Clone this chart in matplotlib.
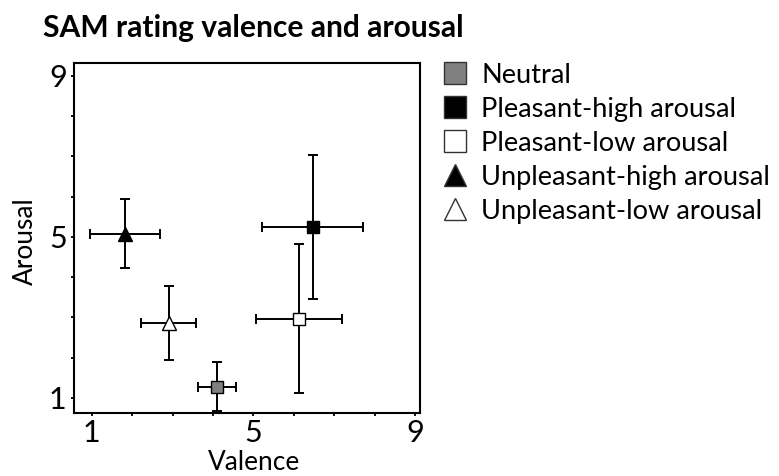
import matplotlib
matplotlib.use("Agg")
import matplotlib.pyplot as plt
from matplotlib.lines import Line2D

plt.rcParams['font.family'] = ['Lato', 'DejaVu Sans']

categories = ["Neutral", "Pleasant-high arousal", "Pleasant-low arousal",
              "Unpleasant-high arousal", "Unpleasant-low arousal"]
valence = [4.11, 6.47, 6.13, 1.82, 2.90]
valence_err = [0.47, 1.25, 1.07, 0.86, 0.67]
arousal = [1.27, 5.25, 2.97, 5.08, 2.86]
arousal_err = [0.61, 1.79, 1.86, 0.85, 0.92]
markers = ["s", "s", "s", "^", "^"]
facecolors = ["#808080", "#000000", "#ffffff", "#000000", "#ffffff"]

W, H = 779, 476
fig = plt.figure(figsize=(W / 100, H / 100), dpi=100)
renderer = fig.canvas.get_renderer()


def fit_size(text, target_px, base=20.0, weight='normal'):
    t = fig.text(0, 0, text, fontsize=base, fontweight=weight)
    bb = t.get_window_extent(renderer)
    t.remove()
    return base * target_px / bb.width


ax_l, ax_r, ax_t, ax_b = 74.3, 420.0, 62.7, 412.7
ax = fig.add_axes([ax_l / W, 1 - ax_b / H, (ax_r - ax_l) / W, (ax_b - ax_t) / H])

for v, ve, a, ae, m, fc in zip(valence, valence_err, arousal, arousal_err, markers, facecolors):
    ax.errorbar(v, a, xerr=ve, yerr=ae, fmt='none', ecolor='black',
                elinewidth=1.4, capsize=3.6, capthick=1.4, zorder=2)
    ax.plot(v, a, marker=m, markersize=9 if m == 's' else 10, markerfacecolor=fc,
            markeredgecolor='black', markeredgewidth=1.0, linestyle='none', zorder=3)

ax.set_xlim(0.57, 9.12)
ax.set_ylim(0.63, 9.33)
ax.set_xticks(range(1, 10))
ax.set_yticks(range(1, 10))
ax.set_xticklabels([str(i) if i in (1, 5, 9) else "" for i in range(1, 10)])
ax.set_yticklabels([str(i) if i in (1, 5, 9) else "" for i in range(1, 10)])
ax.tick_params(direction='out', length=2.5, width=1.3, labelsize=22)
ax.tick_params(axis='y', pad=3)
ax.tick_params(axis='x', pad=2)
for s in ax.spines.values():
    s.set_linewidth(1.5)

aw, ah = ax_r - ax_l, ax_b - ax_t
lab_size = fit_size("Valence", 92)
ax.set_xlabel("Valence", fontsize=lab_size)
ax.set_ylabel("Arousal", fontsize=lab_size)
ax.xaxis.set_label_coords((254 - ax_l) / aw, (ax_b - 450) / ah)
ax.yaxis.set_label_coords((38 - ax_l) / aw, (ax_b - 241) / ah)

title_size = fit_size("SAM rating valence and arousal", 420, weight='bold')
fig.text(43 / W, 1 - 36.7 / H, "SAM rating valence and arousal", fontsize=title_size,
         fontweight='bold', ha='left', va='baseline')

leg_size = fit_size("Unpleasant-high arousal", 290)
handles = []
for m, fc in zip(markers, facecolors):
    handles.append(Line2D([], [], marker=m, markersize=16, markerfacecolor=fc,
                          markeredgecolor='#333333', markeredgewidth=1.0, linestyle='none'))
leg = fig.legend(handles, categories, loc='upper left', bbox_to_anchor=(0.567, 0.868),
                 frameon=False, fontsize=leg_size, handlelength=1.0, handletextpad=0.45,
                 labelspacing=0.33, borderpad=0, borderaxespad=0)

fig.savefig("out.png", dpi=100)
